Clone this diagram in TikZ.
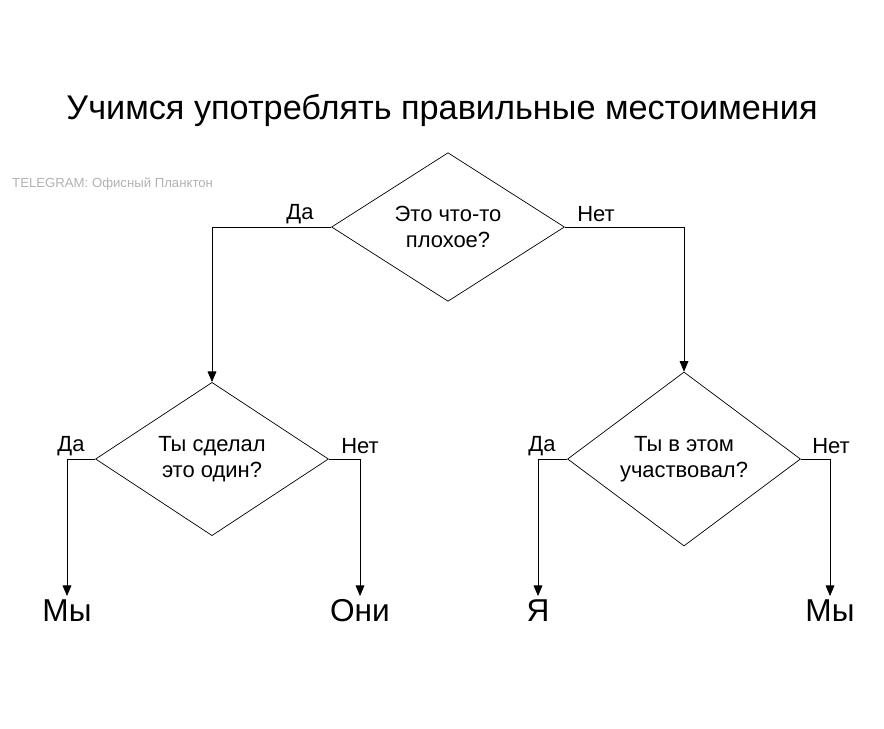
\documentclass[tikz,border=0pt]{standalone}
\usepackage{fontspec}
\setmainfont{Liberation Sans}
\usetikzlibrary{arrows.meta,shapes.geometric}

\begin{document}
\begin{tikzpicture}[x=0.02cm,y=-0.02cm]
    \tikzstyle{Question} = [
            draw=black,
            diamond,
            inner sep=0pt,
            minimum width=4.66cm,
            minimum height=2.88cm,
            align=center,
            font={\fontsize{12.5}{15}\selectfont}
    ];
    \tikzstyle{Answer} = [
            inner sep=2pt,
            anchor=north,
            font={\fontsize{18}{20}\selectfont}
    ];
    \tikzstyle{Choice} = [
            font={\fontsize{12.5}{14}\selectfont}
    ];
    \tikzstyle{Edge} = [
            draw=black,
            -{Triangle[length=6pt,width=5pt]}
    ];
    \useasboundingbox (0,0) rectangle (884,728);

    \node[font={\fontsize{19.5}{22}\selectfont}, name=Title] at (442,110) {Учимся употреблять правильные местоимения};
    \node[font={\fontsize{7.5}{9}\selectfont}, text=black!30, anchor=west, name=Mark] at (6,184) {TELEGRAM: Офисный Планктон};

    \node[Question, name=Bad]   at (448,227) {Это что-то\\плохое?};
    \node[Question, name=Alone] at (212,459) {Ты сделал\\это один?};
    \node[Question, name=Part]  at (684,459) {Ты в этом\\участвовал?};

    \node[Answer, name=WeL]  at (67,596)  {Мы};
    \node[Answer, name=They] at (360,596) {Они};
    \node[Answer, name=Me]   at (538,596) {Я};
    \node[Answer, name=WeR]  at (830,596) {Мы};

    \node[Choice, name=BadYes]   at (300,214) {Да};
    \node[Choice, name=BadNo]    at (596,214) {Нет};
    \node[Choice, name=AloneYes] at (71,446)  {Да};
    \node[Choice, name=AloneNo]  at (360,446) {Нет};
    \node[Choice, name=PartYes]  at (542,446) {Да};
    \node[Choice, name=PartNo]   at (831,446) {Нет};

    \draw[Edge] (Bad.west)   -| (Alone.north);
    \draw[Edge] (Bad.east)   -| (Part.north);
    \draw[Edge] (Alone.west) -| (WeL.north);
    \draw[Edge] (Alone.east) -| (They.north);
    \draw[Edge] (Part.west)  -| (Me.north);
    \draw[Edge] (Part.east)  -| (WeR.north);
\end{tikzpicture}
\end{document}
